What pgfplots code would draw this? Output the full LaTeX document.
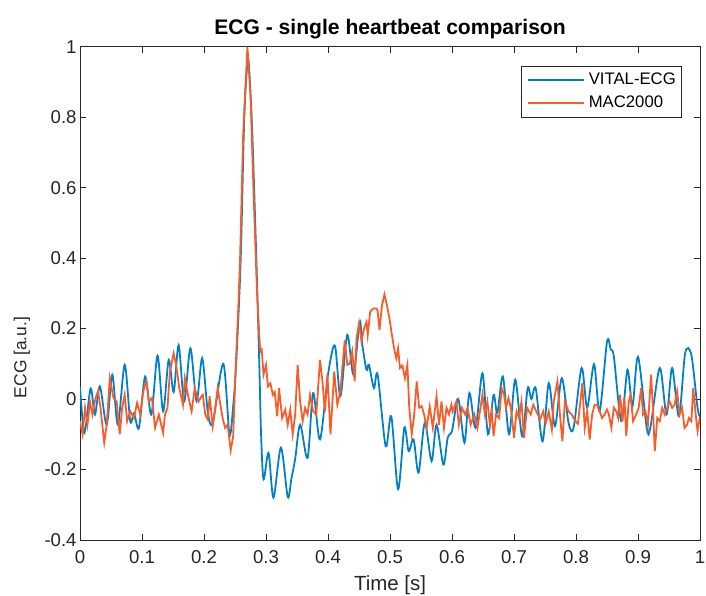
\documentclass[border=0pt]{standalone}
\usepackage{fontspec}
\setmainfont{Liberation Sans}
\usepackage{pgfplots}
\pgfplotsset{compat=1.18}
\definecolor{vitalblue}{RGB}{0,128,200}
\definecolor{macorange}{RGB}{248,92,40}
\definecolor{axgray}{RGB}{38,38,38}

\begin{document}
\begin{tikzpicture}
\begin{axis}[
    width=623.5bp, height=496bp, scale only axis,
    xmin=0, xmax=1, ymin=-0.4, ymax=1,
    xtick={0,0.1,0.2,0.3,0.4,0.5,0.6,0.7,0.8,0.9,1},
    xticklabels={0,0.1,0.2,0.3,0.4,0.5,0.6,0.7,0.8,0.9,1},
    ytick={-0.4,-0.2,0,0.2,0.4,0.6,0.8,1},
    yticklabels={-0.4,-0.2,0,0.2,0.4,0.6,0.8,1},
    tick align=inside, major tick length=6bp,
    axis line style={axgray, line width=0.7bp},
    every tick/.style={axgray, line width=0.7bp},
    ticklabel style={font=\fontsize{18.7bp}{22bp}\selectfont, text=axgray},
    xticklabel style={yshift=-7bp},
    title={ECG - single heartbeat comparison},
    title style={font=\bfseries\fontsize{21.2bp}{24bp}\selectfont, yshift=-2bp},
    xlabel={Time [s]}, ylabel={ECG [a.u.]},
    label style={font=\fontsize{20.6bp}{24bp}\selectfont, text=axgray},
    xlabel style={yshift=-5bp},
    ylabel style={at={(axis description cs:-0.0938,0.37)}, anchor=center,
        font=\fontsize{17.5bp}{20bp}\selectfont},
    legend style={at={(1,1)}, anchor=north east, xshift=-19bp, yshift=-19bp,
        draw=axgray, inner xsep=1.5bp, inner ysep=3bp,
        font=\fontsize{16.8bp}{20bp}\selectfont,
        nodes={text height=12bp, text depth=3.5bp, inner sep=3.7bp}},
    legend cell align=left,
    legend image code/.code={\draw[#1, line width=1.8bp] (5bp,0bp) -- (62bp,0bp);
        \draw[draw=none] (0bp,0bp) -- (5bp,0bp);},
]
% VITAL-ECG
\addplot[vitalblue, line width=1.8bp, smooth, tension=0.5] coordinates {
(0.000,0.035) (0.007,-0.096) (0.017,0.030) (0.024,-0.044) (0.032,0.036)
(0.043,-0.073) (0.052,0.069) (0.061,-0.073) (0.072,0.097) (0.081,-0.063)
(0.087,-0.040) (0.095,-0.082) (0.105,0.064) (0.115,-0.044) (0.125,0.123)
(0.134,-0.035) (0.143,0.111) (0.151,0.020) (0.159,0.153) (0.168,-0.007)
(0.178,0.144) (0.188,-0.006) (0.197,0.116) (0.206,-0.035) (0.214,-0.068)
(0.231,0.100) (0.241,-0.100) (0.247,-0.020) (0.252,0.107) (0.259,0.390)
(0.264,0.746) (0.267,0.880) (0.271,0.965) (0.274,0.900) (0.278,0.746)
(0.2845,0.390) (0.289,0.107) (0.292,-0.100) (0.296,-0.228) (0.304,-0.153)
(0.312,-0.280) (0.324,-0.138) (0.335,-0.278) (0.341,-0.225) (0.347,-0.170)
(0.355,-0.073) (0.367,-0.167) (0.376,0.017) (0.387,-0.115) (0.400,0.070)
(0.411,0.152) (0.420,0.008) (0.431,0.182) (0.441,0.069) (0.451,0.219)
(0.455,0.158) (0.462,0.083) (0.466,0.097) (0.474,0.031) (0.480,0.069)
(0.493,-0.134) (0.502,-0.049) (0.513,-0.256) (0.523,-0.082) (0.530,-0.148)
(0.538,-0.115) (0.546,-0.209) (0.556,-0.068) (0.567,-0.176) (0.575,-0.073)
(0.586,-0.186) (0.593,-0.110) (0.600,-0.090) (0.610,0.000) (0.620,-0.124)
(0.628,0.017) (0.638,-0.082) (0.649,0.073) (0.658,-0.100) (0.667,0.012)
(0.673,-0.040) (0.682,0.064) (0.692,-0.100) (0.702,0.055) (0.713,-0.105)
(0.722,0.031) (0.728,0.000) (0.735,0.030) (0.746,-0.120) (0.756,0.045)
(0.766,-0.077) (0.777,0.059) (0.788,-0.068) (0.796,-0.082) (0.809,0.088)
(0.818,-0.025) (0.829,0.099) (0.838,-0.035) (0.850,0.163) (0.856,0.140)
(0.861,0.120) (0.873,-0.063) (0.883,0.083) (0.891,-0.021) (0.900,0.120)
(0.914,-0.082) (0.920,-0.080) (0.935,0.088) (0.946,-0.044) (0.955,0.088)
(0.966,-0.049) (0.976,0.130) (0.986,0.125) (0.996,-0.025) (1.000,-0.050)
};
\addlegendentry{VITAL-ECG}
% MAC2000
\addplot[macorange, line width=1.8bp] coordinates {
(0.000,-0.063) (0.004,-0.100) (0.008,-0.025) (0.012,-0.073) (0.016,-0.007)
(0.020,-0.044) (0.025,0.003) (0.029,0.022) (0.033,-0.025) (0.039,-0.124)
(0.043,-0.073) (0.048,0.059) (0.054,0.003) (0.059,-0.007) (0.064,-0.100)
(0.068,-0.025) (0.072,0.012) (0.076,-0.063) (0.081,-0.035) (0.087,-0.054)
(0.092,-0.011) (0.097,-0.044) (0.102,0.022) (0.107,0.050) (0.111,-0.007)
(0.116,0.003) (0.121,-0.082) (0.127,-0.044) (0.134,-0.096) (0.137,-0.044)
(0.141,-0.025) (0.145,0.078) (0.151,0.130) (0.155,0.097) (0.160,0.031)
(0.166,-0.016) (0.169,0.059) (0.175,0.003) (0.180,-0.035) (0.185,0.031)
(0.191,-0.007) (0.196,0.008) (0.198,0.012) (0.202,-0.044) (0.206,-0.058)
(0.209,0.008) (0.214,-0.077) (0.218,-0.025) (0.222,0.031) (0.225,-0.002)
(0.230,-0.054) (0.234,-0.082) (0.238,-0.073) (0.243,-0.146) (0.247,-0.105)
(0.251,0.088) (0.255,0.250) (0.258,0.390) (0.263,0.746) (0.266,0.860)
(0.270,1.000) (0.275,0.860) (0.280,0.577) (0.2856,0.295) (0.290,0.153)
(0.291,0.135) (0.293,0.140) (0.296,0.069) (0.300,0.097) (0.303,0.036)
(0.307,0.045) (0.311,0.012) (0.314,0.020) (0.318,-0.049) (0.321,0.031)
(0.326,-0.054) (0.331,-0.030) (0.335,-0.073) (0.339,-0.030) (0.343,-0.100)
(0.347,-0.044) (0.351,0.097) (0.355,-0.007) (0.359,-0.063) (0.363,-0.025)
(0.367,-0.044) (0.371,0.012) (0.376,-0.035) (0.381,-0.044) (0.387,0.111)
(0.391,0.050) (0.395,-0.035) (0.399,0.069) (0.404,-0.100) (0.410,0.078)
(0.415,-0.016) (0.420,0.022) (0.423,0.088) (0.427,0.167) (0.431,0.097)
(0.435,0.100) (0.439,0.135) (0.443,0.050) (0.446,0.172) (0.450,0.215)
(0.454,0.163) (0.458,0.200) (0.462,0.219) (0.464,0.182) (0.468,0.248)
(0.473,0.257) (0.478,0.257) (0.480,0.250) (0.483,0.196) (0.487,0.266)
(0.491,0.297) (0.495,0.266) (0.499,0.229) (0.503,0.182) (0.507,0.139)
(0.510,0.116) (0.513,0.144) (0.516,0.088) (0.520,0.095) (0.524,0.059)
(0.528,0.097) (0.531,-0.025) (0.535,-0.100) (0.539,-0.044) (0.543,0.050)
(0.547,-0.025) (0.551,-0.020) (0.555,-0.044) (0.559,-0.082) (0.564,-0.021)
(0.569,-0.082) (0.575,0.008) (0.579,-0.073) (0.583,-0.007) (0.587,-0.082)
(0.591,-0.025) (0.595,-0.044) (0.599,-0.016) (0.601,-0.035) (0.607,-0.007)
(0.611,-0.073) (0.616,-0.025) (0.621,-0.044) (0.625,-0.025) (0.630,-0.073)
(0.636,-0.044) (0.641,-0.082) (0.645,-0.035) (0.649,0.012) (0.653,-0.044)
(0.657,-0.007) (0.661,-0.073) (0.664,-0.035) (0.667,-0.105) (0.671,-0.044)
(0.676,-0.054) (0.680,0.031) (0.684,0.012) (0.687,-0.025) (0.691,0.003)
(0.695,-0.025) (0.700,-0.110) (0.704,-0.035) (0.708,-0.054) (0.712,-0.007)
(0.716,-0.110) (0.721,-0.025) (0.727,-0.044) (0.731,-0.016) (0.736,-0.035)
(0.742,-0.058) (0.747,-0.035) (0.751,-0.070) (0.756,-0.035) (0.761,-0.087)
(0.764,-0.007) (0.770,0.050) (0.774,-0.044) (0.778,-0.120) (0.782,-0.007)
(0.788,-0.035) (0.793,-0.044) (0.799,-0.063) (0.803,-0.070) (0.807,-0.007)
(0.810,0.045) (0.814,-0.082) (0.818,-0.035) (0.822,-0.115) (0.826,-0.044)
(0.830,-0.016) (0.834,-0.016) (0.838,-0.035) (0.842,-0.054) (0.846,-0.044)
(0.850,-0.030) (0.853,-0.044) (0.857,-0.082) (0.861,-0.025) (0.865,-0.035)
(0.868,-0.054) (0.871,0.012) (0.875,-0.063) (0.878,0.003) (0.881,-0.105)
(0.885,-0.007) (0.888,0.012) (0.892,-0.063) (0.897,-0.044) (0.901,-0.025)
(0.905,0.031) (0.908,-0.044) (0.912,-0.035) (0.916,-0.073) (0.921,0.069)
(0.924,-0.025) (0.927,-0.148) (0.931,-0.054) (0.935,-0.063) (0.939,-0.025)
(0.943,-0.044) (0.947,-0.025) (0.951,-0.007) (0.955,-0.025) (0.959,-0.016)
(0.963,0.022) (0.967,-0.044) (0.971,-0.025) (0.975,-0.082) (0.979,-0.073)
(0.982,-0.054) (0.986,-0.063) (0.989,0.031) (0.993,-0.044) (0.996,-0.091)
(1.000,-0.050)
};
\addlegendentry{MAC2000}
\end{axis}
\pgfresetboundingbox
\path[use as bounding box] ([xshift=-80.5bp,yshift=-56bp]current axis.south west)
    rectangle ([xshift=6bp,yshift=47bp]current axis.north east);
\end{tikzpicture}
\end{document}
